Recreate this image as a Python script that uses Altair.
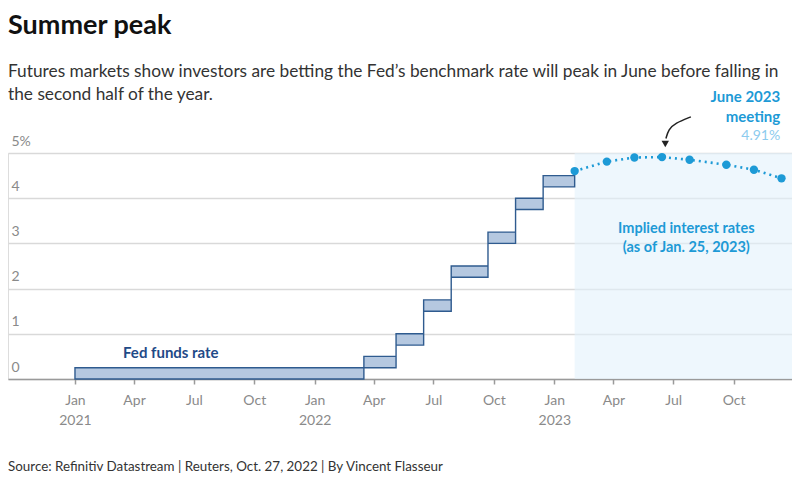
import altair as alt
import pandas as pd

# ---- data ----
step_dates = ["2021-01-01", "2022-03-17", "2022-05-05", "2022-06-16", "2022-07-28",
              "2022-09-22", "2022-11-03", "2022-12-15", "2023-02-01"]
step_low = [0.0, 0.25, 0.75, 1.5, 2.25, 3.0, 3.75, 4.25, 4.25]
step_high = [0.25, 0.5, 1.0, 1.75, 2.5, 3.25, 4.0, 4.5, 4.5]

implied_dates = ["2023-02-01", "2023-03-22", "2023-05-03", "2023-06-14",
                 "2023-07-26", "2023-09-20", "2023-11-01", "2023-12-13"]
implied_vals = [4.60, 4.81, 4.90, 4.91, 4.85, 4.74, 4.63, 4.44]

tick_dates = ["2021-01-01", "2021-04-01", "2021-07-01", "2021-10-01",
              "2022-01-01", "2022-04-01", "2022-07-01", "2022-10-01",
              "2023-01-01", "2023-04-01", "2023-07-01", "2023-10-01"]
y_ticks = [0, 1, 2, 3, 4, 5]

domain_dates = ["2020-09-21", "2023-12-29"]
shade_start, shade_end = "2023-02-01", "2023-12-29"

title = "Summer peak"
subtitle = ["Futures markets show investors are betting the Fed\u2019s benchmark rate will peak in June before falling in",
            "the second half of the year."]
source = "Source: Refinitiv Datastream | Reuters, Oct. 27, 2022 | By Vincent Flasseur"

FONT = "Lato"
BLUE = "#1d9ad6"

def ms(d):
    return int(pd.Timestamp(d, tz="UTC").timestamp() * 1000)

W, H = 784, 226

xscale = alt.Scale(type="utc", domain=[ms(d) for d in domain_dates])
yscale = alt.Scale(domain=[0, 5], nice=False)

x_axis = alt.Axis(
    values=[ms(d) for d in tick_dates],
    labelExpr="utcmonth(datum.value)==0 ? [utcFormat(datum.value,'%b'), utcFormat(datum.value,'%Y')] : utcFormat(datum.value,'%b')",
    title=None, grid=False, domainColor="#9a9a9a", domainWidth=1.5,
    tickColor="#9a9a9a", tickSize=5, tickWidth=1.5, labelColor="#8a8a8a",
    labelFontSize=14, labelFont=FONT, labelPadding=9, labelLineHeight=20,
)
y_axis = alt.Axis(
    values=y_ticks, labelExpr="datum.value==5 ? '5%' : datum.label",
    title=None, grid=True, gridColor="#d9d9d9", gridWidth=1.5, domain=False,
    ticks=False, tickSize=0, labelAlign="left", labelBaseline="alphabetic",
    labelPadding=-3, labelOffset=-8, labelColor="#8a8a8a", labelFontSize=14,
    labelFont=FONT,
)

steps = pd.DataFrame({"date": step_dates, "low": step_low, "high": step_high})
implied = pd.DataFrame({"date": implied_dates, "v": implied_vals})
shade = pd.DataFrame({"start": [shade_start], "end": [shade_end], "lo": [0], "hi": [5]})

base_x = alt.X("date:T", scale=xscale, axis=x_axis)
base_y = alt.Y("v:Q", scale=yscale, axis=y_axis)

shade_layer = alt.Chart(shade).mark_rect(color="#e3f1fb", opacity=0.6).encode(
    x=alt.X("start:T", scale=xscale, axis=x_axis), x2="end:T",
    y=alt.Y("lo:Q", scale=yscale, axis=y_axis), y2="hi:Q",
)

area = alt.Chart(steps).mark_area(
    interpolate="step-after", fill="#b5c8e0", stroke="#2f5b8f", strokeWidth=1.4
).encode(x=base_x, y=alt.Y("high:Q", scale=yscale, axis=y_axis), y2="low:Q")

line = alt.Chart(implied).mark_line(
    color=BLUE, strokeDash=[2, 4], strokeWidth=2.6
).encode(x=base_x, y=base_y)

pts = alt.Chart(implied).mark_circle(color=BLUE, size=70, opacity=1).encode(x=base_x, y=base_y)

# annotations
ann = pd.DataFrame({
    "date": ["2021-05-27", "2023-07-21", "2023-12-11", "2023-12-11", "2023-12-11"],
    "v": [0.575, 3.32, 6.23, 5.79, 5.37],
    "txt": ["Fed funds rate", "Implied interest rates\n(as of Jan. 25, 2023)",
            "June 2023", "meeting", "4.91%"],
    "kind": ["ffr", "imp", "june", "june", "val"],
})

def text_layer(kind, **kw):
    return alt.Chart(ann[ann.kind == kind]).mark_text(
        font=FONT, lineBreak="\n", baseline="middle", **kw
    ).encode(x=base_x, y=base_y, text="txt:N")

t_ffr = text_layer("ffr", color="#1f4a87", fontSize=15, fontWeight="bold", align="center")
t_imp = text_layer("imp", color=BLUE, fontSize=14.5, fontWeight="bold", align="center", lineHeight=19)
t_june = text_layer("june", color=BLUE, fontSize=15, fontWeight="bold", align="right")
t_val = text_layer("val", color="#8ccbee", fontSize=14, align="right")

arrow = pd.DataFrame({"date": ["2023-06-20", "2023-06-24", "2023-07-04", "2023-07-28"],
                      "v": [5.32, 5.52, 5.66, 5.80]})
arrow_line = alt.Chart(arrow).mark_line(color="#222", strokeWidth=1.5, interpolate="basis").encode(
    x=base_x, y=base_y)
head = pd.DataFrame({"date": ["2023-06-19"], "v": [5.2]})
arrow_head = alt.Chart(head).mark_point(shape="triangle-down", filled=True, color="#222",
                                        size=55, opacity=1).encode(x=base_x, y=base_y)

src = alt.Chart(pd.DataFrame({"t": [source]})).mark_text(
    align="left", baseline="middle", font=FONT, fontSize=13.4, color="#333"
).encode(x=alt.value(0), y=alt.value(H + 88), text="t:N")

chart = alt.layer(
    shade_layer, area, line, pts, t_ffr, t_imp, t_june, t_val, arrow_line, arrow_head, src
).properties(
    width=W, height=H,
    title=alt.TitleParams(
        text=title, subtitle=subtitle, anchor="start", font=FONT, fontSize=27,
        fontWeight="bold", color="#111", subtitleFont=FONT, subtitleFontSize=17.3,
        subtitleColor="#333", subtitleLineHeight=23, subtitlePadding=23, offset=-14,
    ),
).configure_view(stroke=None).configure(padding={"top": 4, "left": 0, "right": 0, "bottom": 0})

chart.save("out.html", embed_options={"renderer": "svg", "actions": False})
